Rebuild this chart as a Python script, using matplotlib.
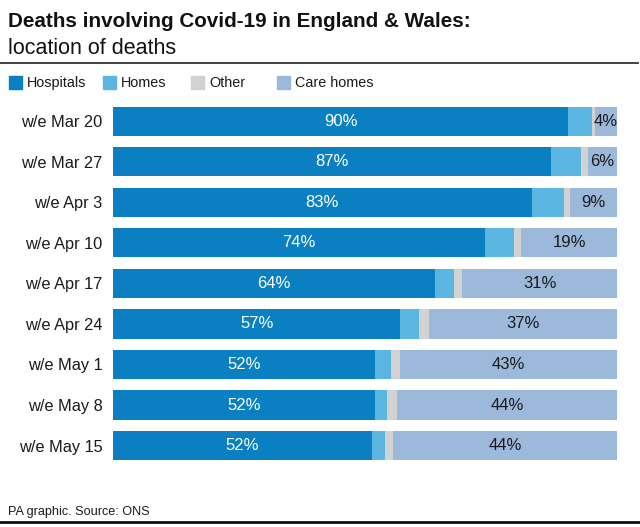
import matplotlib
matplotlib.use("Agg")
import matplotlib.pyplot as plt
from matplotlib.patches import Rectangle
from matplotlib.lines import Line2D

weeks = ["w/e Mar 20", "w/e Mar 27", "w/e Apr 3", "w/e Apr 10", "w/e Apr 17",
         "w/e Apr 24", "w/e May 1", "w/e May 8", "w/e May 15"]
hospitals = [90.3, 87.0, 83.1, 73.9, 63.8, 57.0, 51.9, 51.9, 51.4]
homes = [4.8, 5.8, 6.4, 5.6, 3.8, 3.8, 3.2, 2.5, 2.6]
other = [0.5, 1.4, 1.2, 1.5, 1.7, 1.9, 1.9, 2.0, 1.6]
care_homes = [4.4, 5.8, 9.3, 19.0, 30.7, 37.3, 43.0, 43.6, 44.4]
hosp_labels = ["90%", "87%", "83%", "74%", "64%", "57%", "52%", "52%", "52%"]
care_labels = ["4%", "6%", "9%", "19%", "31%", "37%", "43%", "44%", "44%"]

series_names = ["Hospitals", "Homes", "Other", "Care homes"]
colors = ["#0a80c2", "#5bb7e1", "#d2d2d2", "#9cb9dc"]

plt.rcParams['font.family'] = ['Liberation Sans', 'DejaVu Sans']

W, H = 640, 527
fig = plt.figure(figsize=(W / 100, H / 100), dpi=100)

def fx(px):
    return px / W

def fy(py):
    return 1 - py / H

ax = fig.add_axes([fx(113), fy(465.8), fx(617) - fx(113), fy(101) - fy(465.8)])
ys = list(range(len(weeks)))
lefts = [0.0] * len(weeks)
for vals, col in zip([hospitals, homes, other, care_homes], colors):
    ax.barh(ys, vals, left=lefts, height=0.72, color=col, edgecolor='none')
    lefts = [l + v for l, v in zip(lefts, vals)]

for i in ys:
    ax.text(hospitals[i] / 2, i, hosp_labels[i], ha='center', va='center',
            color='white', fontsize=12)
    start = hospitals[i] + homes[i] + other[i]
    ax.text(start + care_homes[i] / 2, i, care_labels[i], ha='center', va='center',
            color='#1a1a1a', fontsize=12)

ax.set_xlim(0, 100)
ax.set_ylim(len(weeks) - 0.5, -0.5)
ax.set_yticks(ys)
ax.set_yticklabels(weeks, fontsize=11.8, color='#1a1a1a')
ax.tick_params(axis='y', length=0, pad=7.5)
ax.set_xticks([])
for s in ax.spines.values():
    s.set_visible(False)

# Title
fig.text(fx(8), fy(27.3), "Deaths involving Covid-19 in England & Wales:",
         fontsize=14.9, fontweight='bold', color='#111111', va='baseline', ha='left')
fig.text(fx(8), fy(54), "location of deaths", fontsize=15.5, color='#111111',
         va='baseline', ha='left')
fig.add_artist(Line2D([0, fx(638)], [fy(63.3), fy(63.3)], color='#333333', lw=1.3))

# Legend
leg_x = [9, 103, 191, 277]
for x, name, col in zip(leg_x, series_names, colors):
    fig.add_artist(Rectangle((fx(x), fy(89)), fx(13), 13 / H, color=col,
                             transform=fig.transFigure))
    fig.text(fx(x + 18), fy(87), name, fontsize=10.4, color='#1a1a1a',
             va='baseline', ha='left')

# Footer
fig.text(fx(8), fy(515), "PA graphic. Source: ONS", fontsize=9.1, color='#1a1a1a',
         va='baseline', ha='left')
fig.add_artist(Line2D([0, 1], [fy(521.5), fy(521.5)], color='#111111', lw=2))

fig.savefig("out.png", dpi=100)
